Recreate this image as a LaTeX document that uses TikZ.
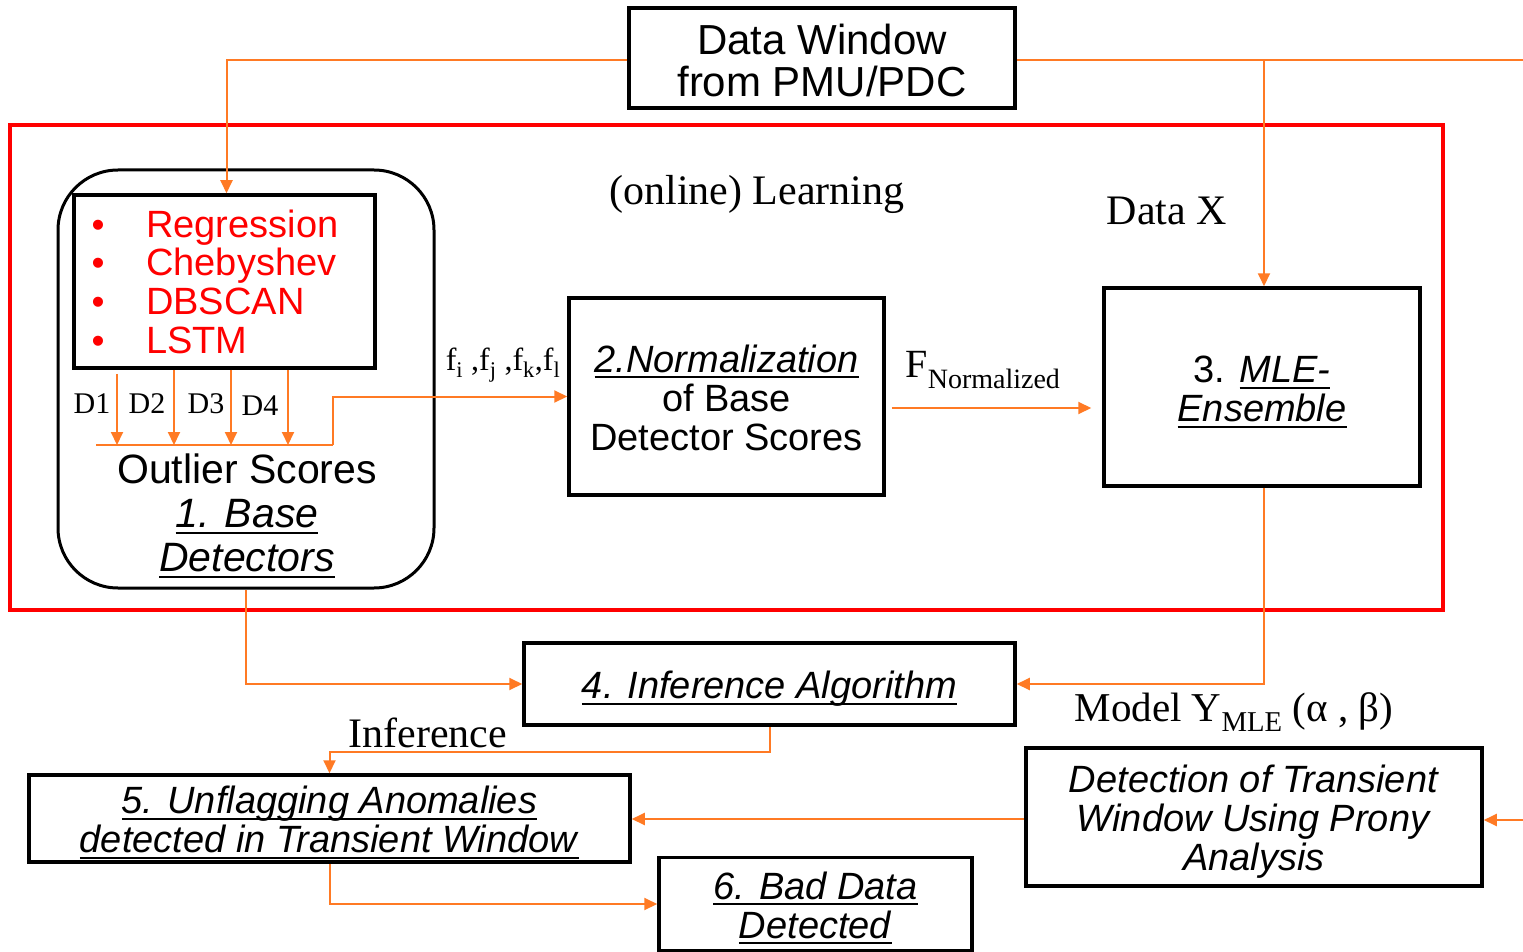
\documentclass[tikz,border=0pt]{standalone}
\usepackage{fontspec}
\setmainfont{Liberation Sans}
\newfontfamily\seriffont{Liberation Serif}
\newcommand\myul[1]{\setbox0\hbox{#1}\rlap{\rule[-6pt]{\wd0}{2.2pt}}\box0}
\usetikzlibrary{arrows.meta}
\definecolor{org}{RGB}{255,122,36}
\definecolor{rd}{RGB}{255,0,0}
\begin{document}
\begin{tikzpicture}[x=1pt,y=-1pt,
  box/.style={draw=black,line width=3.5pt,inner sep=0pt},
  txt/.style={align=center,inner sep=0pt,font=\fontsize{38}{39}\selectfont},
  conn/.style={draw=org,line width=2pt},
  arr/.style={conn,-{Triangle[length=13pt,width=12pt]}},
  lbl/.style={font=\seriffont\fontsize{42}{44}\selectfont,inner sep=0pt},
  dlbl/.style={font=\seriffont\fontsize{30}{32}\selectfont,inner sep=0pt},
  redtxt/.style={text=rd,font=\fontsize{38}{39}\selectfont,inner sep=0pt,anchor=base west},
  redbul/.style={text=rd,font=\fontsize{37}{39}\selectfont,inner sep=0pt,anchor=base}]
\useasboundingbox (0,0) rectangle (1523,952);
\fill[white] (0,0) rectangle (1523,952);

% group box
\node[draw=rd,line width=4pt,minimum width=1433pt,minimum height=485pt,inner sep=0pt] (learn) at (726.5,367.5) {};

% boxes
\node[box,minimum width=386pt,minimum height=100pt] (dw) at (822,58) {};
\node[draw=black,line width=3pt,rounded corners=60pt,minimum width=376pt,minimum height=418pt,inner sep=0pt] (base) at (246,379) {};
\node[box,minimum width=301pt,minimum height=173pt] (list) at (224.5,281.5) {};
\node[box,minimum width=315pt,minimum height=197pt] (norm) at (726.5,396.5) {};
\node[box,minimum width=316pt,minimum height=198pt] (mle) at (1262,387) {};
\node[box,minimum width=491pt,minimum height=82pt] (inf) at (769.5,684) {};
\node[box,minimum width=601pt,minimum height=87pt] (unf) at (329.5,818.5) {};
\node[box,minimum width=456pt,minimum height=138pt] (prony) at (1254,817) {};
\node[box,minimum width=313pt,minimum height=93pt] (bad) at (815.5,904) {};

% box texts
\node[txt,font=\fontsize{42}{42}\selectfont] (dwt) at ([yshift=-2pt]dw.center) {Data Window\\from PMU/PDC};
\node[txt] (normt) at ([yshift=-1pt]norm.center) {\myul{\textit{2.Normalization}}\\of Base\\Detector Scores};
\node[txt] (mlet) at ([yshift=-5pt]mle.center) {3. \myul{\textit{MLE-}}\\\myul{\textit{Ensemble}}};
\node[txt] (inft) at ([yshift=-5pt]inf.center) {\myul{\textit{4. Inference Algorithm}}};
\node[txt] (unft) at ([yshift=-4pt]unf.center) {\myul{\textit{5. Unflagging Anomalies}}\\\myul{\textit{detected in Transient Window}}};
\node[txt] (pronyt) at ([yshift=-5pt]prony.center) {\textit{Detection of Transient}\\\textit{Window Using Prony}\\\textit{Analysis}};
\node[txt] (badt) at ([yshift=-4pt]bad.center) {\myul{\textit{6. Bad Data}}\\\myul{\textit{Detected}}};

% red list
\node[redbul] (b1) at (98,237) {•};
\node[redbul] (b2) at (98,275) {•};
\node[redbul] (b3) at (98,314) {•};
\node[redbul] (b4) at (98,353) {•};
\node[redtxt] (t1) at (146,237) {Regression};
\node[redtxt] (t2) at (146,275) {Chebyshev};
\node[redtxt] (t3) at (146,314) {DBSCAN};
\node[redtxt] (t4) at (146,353) {LSTM};

% base detector text
\node[align=center,inner sep=0pt,font=\fontsize{41}{44}\selectfont] (btxt) at (247,516) {Outlier Scores\\\myul{\textit{1. Base}}\\\myul{\textit{Detectors}}};

% D arrows
\coordinate (d1) at (117,445);
\coordinate (d2) at (174,445);
\coordinate (d3) at (231,445);
\coordinate (d4) at (288,445);
\coordinate (cs) at (96,445);
\coordinate (ce) at (333,445);
\draw[arr] ([yshift=-4pt]list.south -| d1) -- (d1);
\draw[arr] (list.south -| d2) -- (d2);
\draw[arr] (list.south -| d3) -- (d3);
\draw[arr] (list.south -| d4) -- (d4);
\draw[conn] (cs) -- (ce);
\draw[arr] (ce) |- (norm.west);
\node[dlbl] (l1) at (92,404) {D1};
\node[dlbl] (l2) at (147,404) {D2};
\node[dlbl] (l3) at (206,404) {D3};
\node[dlbl] (l4) at (260,406) {D4};

% labels
\node[lbl] (online) at (757,194) {(online) Learning};
\node[lbl] (datax) at (1167,211) {Data X};
\node[inner sep=0pt,font=\seriffont\fontsize{32}{34}\selectfont] (flbl) at (503,365) {f\textsubscript{i} ,f\textsubscript{j} ,f\textsubscript{k},f\textsubscript{l}};
\node[lbl,font=\seriffont\fontsize{40}{42}\selectfont] (fnorm) at (983,370) {F\textsubscript{Normalized}};
\node[lbl,font=\seriffont\fontsize{41}{42}\selectfont] (model) at (1234,712) {Model Y\textsubscript{MLE} (α , β)};
\node[lbl,font=\seriffont\fontsize{42}{44}\selectfont] (inflbl) at (428,733) {Inference};

% connectors
\coordinate (rtop) at (1523,60);
\coordinate (rmid) at (1523,820);
\draw[arr] ([yshift=-2pt]dw.west) -| ([xshift=2pt]list.north);
\draw[conn] ([yshift=-2pt]dw.east) -- (rtop);
\draw[arr] ([xshift=2pt]mle.north |- rtop) -- ([xshift=2pt]mle.north);
\draw[arr,shorten <=6pt,shorten >=11pt] (norm.east |- 0,408) -- (mle.west |- 0,408);
\draw[arr] (base.south) |- (inf.west);
\draw[arr] ([xshift=2pt]mle.south) |- (inf.east);
\draw[arr] (inf.south) -- (inf.south |- 0,752) -| (unf.north);
\draw[arr] ([yshift=-2pt]prony.west) -- ([yshift=-2pt]prony.west -| unf.east);
\draw[arr] (rmid) -- (rmid -| prony.east);
\draw[arr] (unf.south) |- (bad.west);
\end{tikzpicture}
\end{document}
